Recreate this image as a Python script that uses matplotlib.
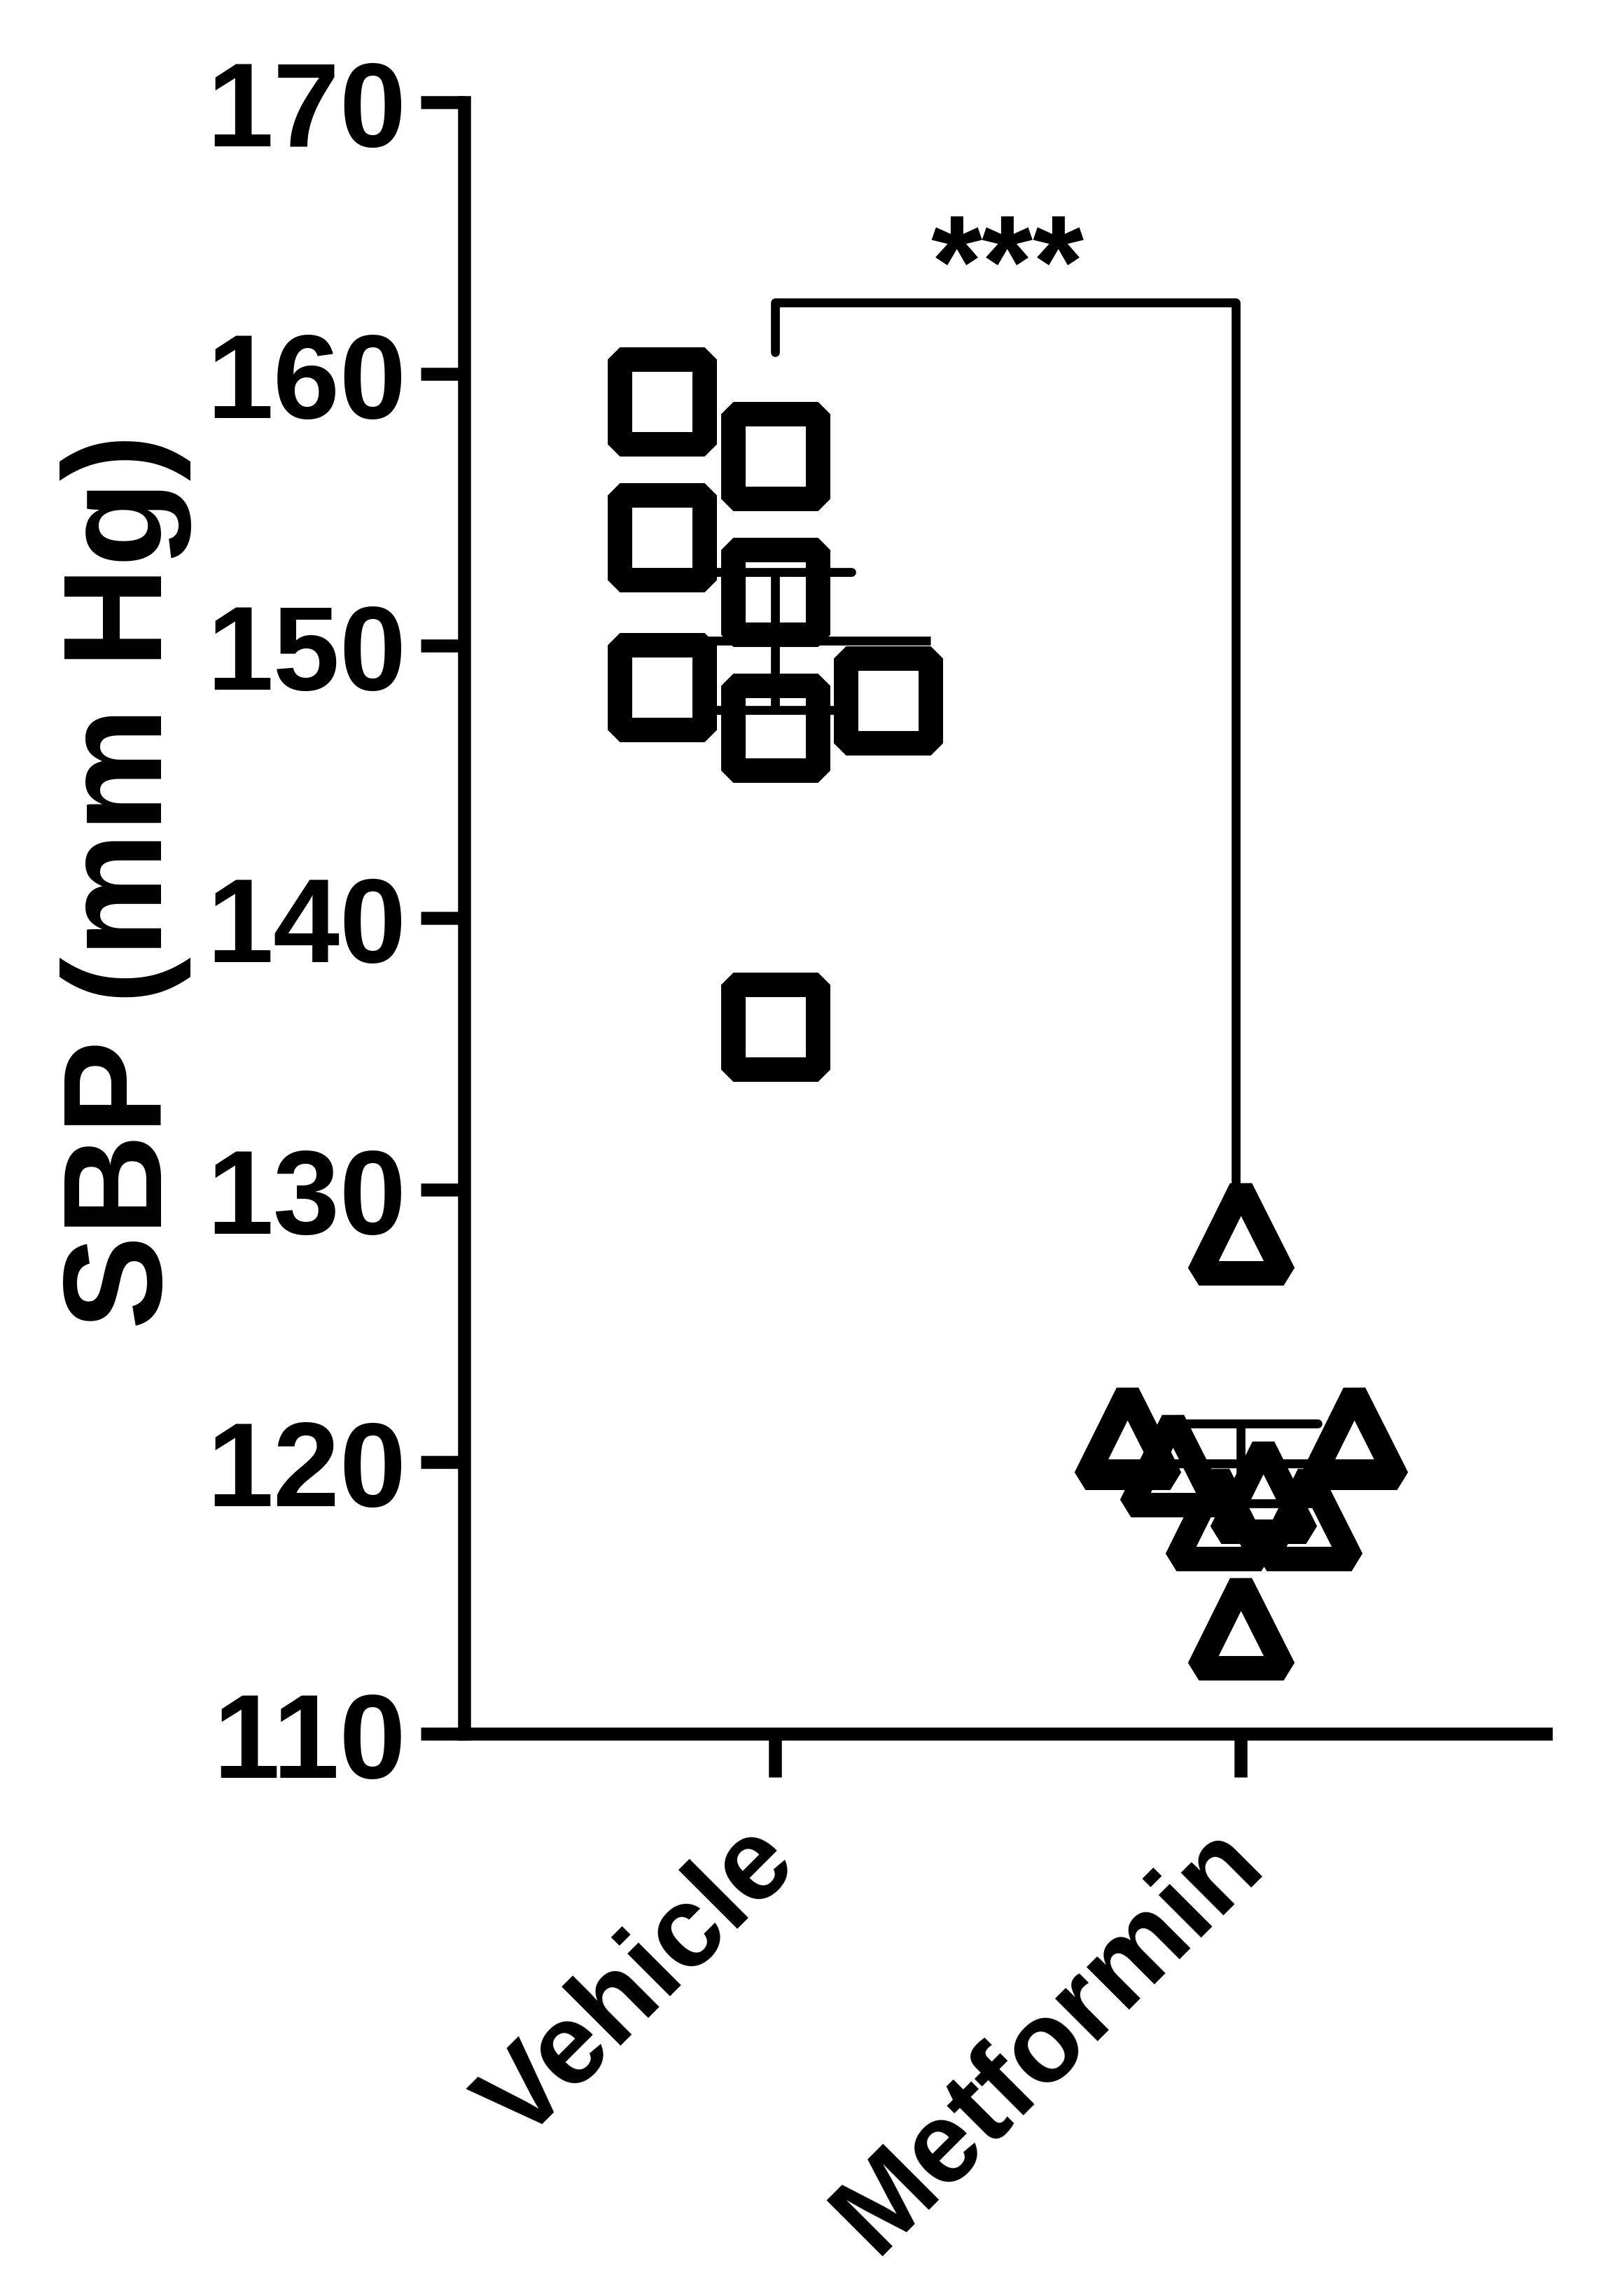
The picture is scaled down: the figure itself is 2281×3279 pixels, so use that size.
import numpy as np
import matplotlib
matplotlib.use("Agg")
import matplotlib.pyplot as plt
from matplotlib.markers import MarkerStyle
from matplotlib.transforms import ScaledTranslation

# ---------------- data ----------------
groups = ["Vehicle", "Metformin"]
vehicle_sbp = [159, 157, 154, 152, 148.5, 147, 148, 136]
metformin_sbp = [128.5, 121, 120, 118, 119, 118, 121, 114]
y_ticks = [110, 120, 130, 140, 150, 160, 170]
y_label = "SBP (mm Hg)"
significance = "***"

# ---------------- style ----------------
plt.rcParams["font.family"] = ["Liberation Sans", "DejaVu Sans"]
plt.rcParams["font.weight"] = "bold"

DPI = 100
W, H = 2281, 3280


def px(v):
    """pixels -> points"""
    return v * 72.0 / DPI


AX_LW = px(18.5)
BAR_LW = px(12.7)
MARKER_SIZE = px(121)
MARKER_EW = px(35)
TICK_LEN = px(62)

fig = plt.figure(figsize=(W / DPI, H / DPI), dpi=DPI)
fig.patch.set_facecolor("white")
ax = fig.add_axes([663 / W, 803 / H, 1545 / W, 2330.3 / H])
ax.set_xlim(-0.6664, 1.655)
ax.set_ylim(110, 170)


def swarm_offsets(values, row_height, step, half_span):
    """Group points into horizontal rows and spread each row sideways."""
    n = len(values)
    order = sorted(range(n), key=lambda i: -values[i])
    rows, cur = [], []
    for i in order:
        if cur and values[cur[0]] - values[i] >= row_height:
            rows.append(cur)
            cur = []
        cur.append(i)
    if cur:
        rows.append(cur)
    offs = np.zeros(n)
    for row in rows:
        row = sorted(row)
        m = len(row)
        if (m - 1) * step <= 2 * half_span + 1e-9:
            start = -(m // 2)
            pos = [(start + k) * step for k in range(m)]
        else:
            s = 2 * half_span / (m - 1)
            pos = [-half_span + k * s for k in range(m)]
        for k, i in enumerate(row):
            offs[i] = pos[k]
    return offs


series = [vehicle_sbp, metformin_sbp]
marker_shapes = ["s", "^"]

for gi, (vals, shape) in enumerate(zip(series, marker_shapes)):
    vals = np.asarray(vals, dtype=float)
    offs = swarm_offsets(vals, row_height=4.0, step=0.243, half_span=0.243)
    ms = MarkerStyle(shape, fillstyle="none", joinstyle="bevel")
    ax.plot(gi + offs, vals, linestyle="none", marker=ms,
            markersize=MARKER_SIZE, markeredgewidth=MARKER_EW,
            markeredgecolor="black", color="black", zorder=3)

    mean = vals.mean()
    sem = vals.std(ddof=1) / np.sqrt(len(vals))
    # mean line
    ax.plot([gi - 0.334, gi + 0.334], [mean, mean], color="black",
            lw=BAR_LW, solid_capstyle="butt", zorder=4)
    # SEM whisker
    ax.plot([gi, gi], [mean - sem, mean + sem], color="black",
            lw=BAR_LW, solid_capstyle="butt", zorder=4)
    for yv in (mean - sem, mean + sem):
        ax.plot([gi - 0.165, gi + 0.165], [yv, yv], color="black",
                lw=BAR_LW, solid_capstyle="round", zorder=4)

# significance bracket
top_y = 162.64
gap = 1.8
leg_l = max(vehicle_sbp) + gap
leg_r = max(metformin_sbp) + gap
ax.plot([0, 0, 0.99, 0.99], [leg_l, top_y, top_y, leg_r], color="black",
        lw=BAR_LW, solid_capstyle="round", solid_joinstyle="round", zorder=4)
ax.text(0.5, 162.53, significance, ha="center", va="baseline",
        fontsize=135, fontweight="bold", color="black")

# axes styling
for side in ("top", "right"):
    ax.spines[side].set_visible(False)
for side in ("left", "bottom"):
    ax.spines[side].set_linewidth(AX_LW)
    ax.spines[side].set_color("black")

ax.set_yticks(y_ticks)
ax.set_yticklabels([str(t) for t in y_ticks])
ax.set_xticks(range(len(groups)))
ax.set_xticklabels(groups)

ax.tick_params(axis="both", direction="out", length=TICK_LEN, width=AX_LW,
               color="black")
ax.tick_params(axis="y", labelsize=123, pad=px(21))
ax.tick_params(axis="x", labelsize=117.5, pad=px(126))

shift = ScaledTranslation(36 / DPI, 0, fig.dpi_scale_trans)
for lbl in ax.get_xticklabels():
    lbl.set_rotation(45)
    lbl.set_ha("right")
    lbl.set_va("baseline")
    lbl.set_rotation_mode("anchor")
    lbl.set_fontweight("bold")
    lbl.set_transform(lbl.get_transform() + shift)
for lbl in ax.get_yticklabels():
    lbl.set_fontweight("bold")

ax.set_ylabel(y_label, fontsize=144.5, fontweight="bold")
ax.yaxis.set_label_coords(-0.2520, 0.523)

fig.savefig("out.png", dpi=DPI, facecolor="white")
